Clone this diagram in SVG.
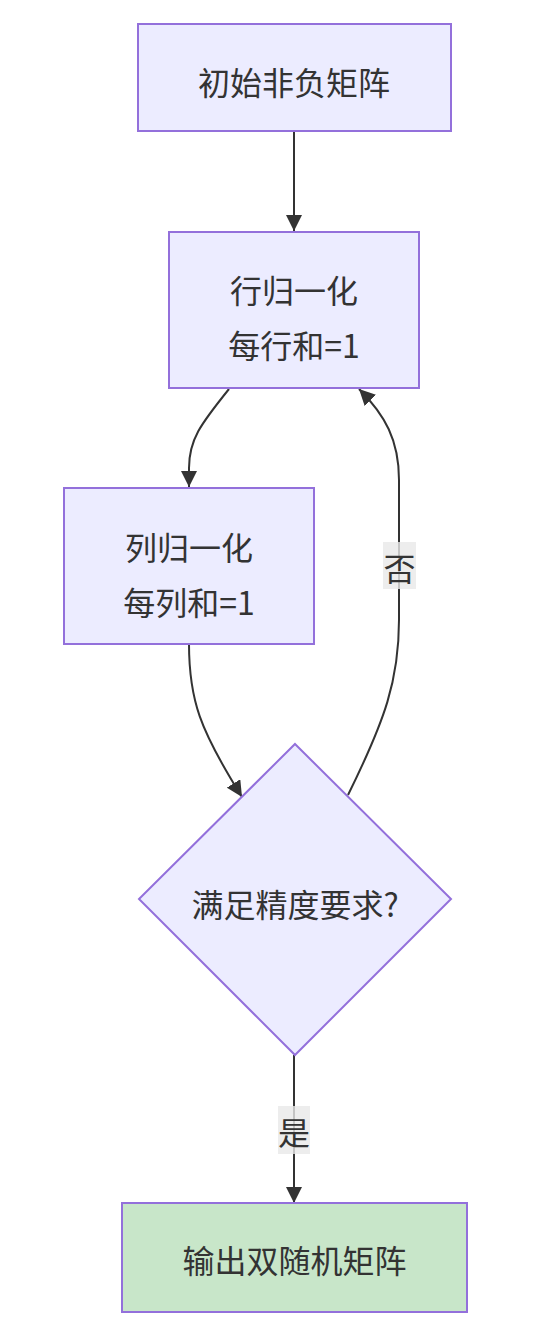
<svg xmlns="http://www.w3.org/2000/svg" width="559" height="1317" viewBox="0 0 559 1317">
<style>
.node{fill:#ECECFF;stroke:#9370DB;stroke-width:2}
.green{fill:#C8E6C9;stroke:#9370DB;stroke-width:2}
.t{font-family:"Noto Sans CJK SC","Noto Sans",sans-serif;font-size:32px;fill:#333333;text-anchor:middle;dominant-baseline:central}
.e{fill:none;stroke:#333333;stroke-width:2}
.lbl{fill:#E8E8E8;fill-opacity:0.8}
</style>
<defs>
<marker id="arr" viewBox="0 0 10 10" refX="10" refY="5" markerWidth="16" markerHeight="16" markerUnits="userSpaceOnUse" orient="auto">
<path d="M0,0 L10,5 L0,10 z" fill="#333333"/>
</marker>
</defs>
<rect width="559" height="1317" fill="#FFFFFF"/>
<g id="edges">
<path class="e" d="M294,131 L294,231" marker-end="url(#arr)"/>
<path class="e" d="M229,389 C200,425 189,440 189,468 L189,487" marker-end="url(#arr)"/>
<path class="e" d="M189,644 C189,700 200,730 242,797" marker-end="url(#arr)"/>
<path class="e" d="M348,795 C385,720 399,680 399,620 L399,480 C399,440 385,415 359,389" marker-end="url(#arr)"/>
<path class="e" d="M294,1055 L294,1203" marker-end="url(#arr)"/>
</g>
<g id="label-no">
<rect class="lbl" x="383" y="542" width="33" height="47"/>
<text class="t" x="399.5" y="567">否</text>
</g>
<g id="label-yes">
<rect class="lbl" x="278" y="1106" width="32" height="48"/>
<text class="t" x="294" y="1131">是</text>
</g>
<g id="A">
<rect class="node" x="138" y="24" width="313" height="107"/>
<text class="t" x="294" y="81">初始非负矩阵</text>
</g>
<g id="B">
<rect class="node" x="169" y="232" width="250" height="156"/>
<text class="t" x="294" y="289">行归一化</text>
<text class="t" x="294" y="344">每行和=1</text>
</g>
<g id="C">
<rect class="node" x="64" y="488" width="250" height="156"/>
<text class="t" x="189" y="546">列归一化</text>
<text class="t" x="189" y="601">每列和=1</text>
</g>
<g id="D">
<polygon class="node" points="295,744 451,899 295,1055 139,899"/>
<text class="t" x="295" y="903">满足精度要求?</text>
</g>
<g id="E">
<rect class="green" x="122" y="1203" width="345" height="109"/>
<text class="t" x="294.5" y="1259">输出双随机矩阵</text>
</g>
</svg>
